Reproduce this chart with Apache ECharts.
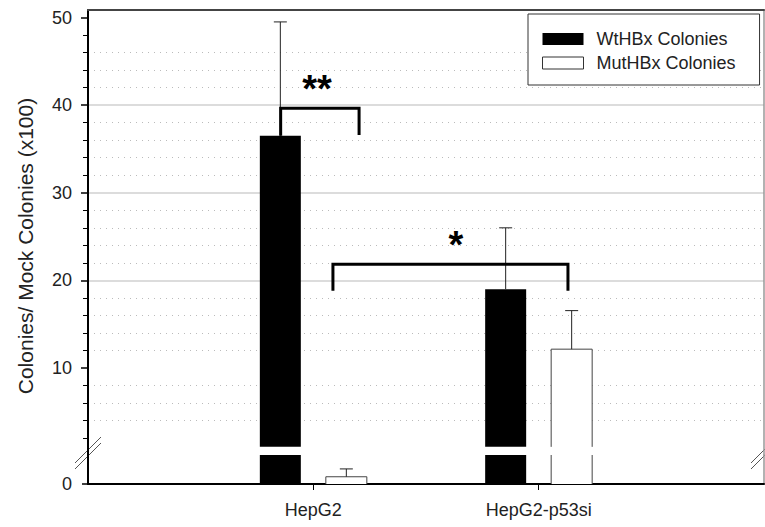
<!DOCTYPE html>
<html>
<head>
<meta charset="utf-8">
<script src="https://cdn.jsdelivr.net/npm/echarts@6/dist/echarts.min.js"></script>
<style>
html, body { margin: 0; padding: 0; background: #fff; }
#chart { width: 765px; height: 527px; }
</style>
</head>
<body>
<div id="chart"></div>
<script>
// ---------------- data ----------------
const categories = ['HepG2', 'HepG2-p53si'];
const seriesNames = ['WtHBx Colonies', 'MutHBx Colonies'];
const wtValues = [36.5, 19.0];
const wtErrors = [13.0, 7.0];
const mutValues = [0.25, 12.15];
const mutErrors = [0.27, 4.4];
const majorTickValues = [10, 20, 30, 40, 50];
const minorTickValues = [2, 4, 6, 8, 12, 14, 16, 18, 22, 24, 26, 28, 32, 34, 36, 38, 42, 44, 46, 48];
const lowerTickValues = [0];
const yAxisTitle = 'Colonies/ Mock Colonies (x100)';
// significance brackets (x in category-index units, y in data units)
const bracketLabels = ['**', '*'];
const bracketLeftX = [0.855, 1.087];
const bracketRightX = [1.203, 2.130];
const bracketTopY = [39.64, 21.85];
const bracketLeftEndY = [36.5, 18.82];
const bracketRightEndY = [36.6, 18.82];
const bracketLabelX = [1.016, 1.633];
const bracketLabelY = [41.8, 24.0];

// ---------------- layout / style constants ----------------
const FONT = "'Liberation Sans', Arial, Helvetica, sans-serif";
const UPPER_MIN = 0.07, UPPER_MAX = 50.86, BREAK_AT = 1, LOWER_MAX = 1;
const BAR_W = 41, BAR_OFF = 33, CAP_W = 13;

const wtData = categories.map((c, i) => [i + 1, wtValues[i], wtErrors[i]]);
const mutData = categories.map((c, i) => [i + 1, mutValues[i], mutErrors[i]]);
const bracketData = bracketLabels.map((l, i) => [bracketLeftX[i], bracketRightX[i], bracketTopY[i], bracketLeftEndY[i], bracketRightEndY[i], bracketLabelX[i], bracketLabelY[i]]);

function barItem(offsetPx, fill, stroke, base) {
  return function (params, api) {
    const cs = params.coordSys;
    const xi = api.value(0), v = api.value(1), e = api.value(2);
    const pBase = api.coord([xi, base]);
    const pTop = api.coord([xi, v]);
    const pErr = api.coord([xi, v + e]);
    const cx = pBase[0] + offsetPx;
    const visTop = cs.y;
    const visBot = Math.min(cs.y + cs.height, pBase[1]);
    const children = [];
    const y0 = Math.max(visTop, Math.min(visBot, pTop[1]));
    const l = cx - BAR_W / 2, r = cx + BAR_W / 2;
    if (visBot - y0 > 0.01) {
      children.push({ type: 'rect', shape: { x: l, y: y0, width: BAR_W, height: visBot - y0 }, style: { fill: fill } });
      if (stroke) {
        if (pTop[1] >= visTop && pTop[1] <= visBot) {
          children.push({ type: 'polyline', shape: { points: [[l, visBot], [l, y0], [r, y0], [r, visBot]] }, style: { fill: null, stroke: stroke, lineWidth: 1 } });
        } else {
          children.push({ type: 'line', shape: { x1: l, y1: visBot, x2: l, y2: y0 }, style: { stroke: stroke, lineWidth: 1 } });
          children.push({ type: 'line', shape: { x1: r, y1: visBot, x2: r, y2: y0 }, style: { stroke: stroke, lineWidth: 1 } });
        }
      }
    }
    const e1 = Math.max(visTop, Math.min(visBot, pErr[1]));
    const eStart = Math.max(visTop, Math.min(visBot, pTop[1]));
    if (eStart - e1 > 0.01) {
      children.push({ type: 'line', shape: { x1: cx, y1: eStart, x2: cx, y2: e1 }, style: { stroke: '#222', lineWidth: 1 } });
    }
    if (pErr[1] >= visTop && pErr[1] <= visBot) {
      children.push({ type: 'line', shape: { x1: cx - CAP_W / 2, y1: pErr[1], x2: cx + CAP_W / 2, y2: pErr[1] }, style: { stroke: '#222', lineWidth: 1 } });
    }
    return { type: 'group', children: children };
  };
}

function bracketItem(params, api) {
  const x1 = api.value(0), x2 = api.value(1), top = api.value(2), e1 = api.value(3), e2 = api.value(4);
  const lx = api.value(5), ly = api.value(6);
  const p1 = api.coord([x1, e1]), p2 = api.coord([x1, top]), p3 = api.coord([x2, top]), p4 = api.coord([x2, e2]);
  const pl = api.coord([lx, ly]);
  return {
    type: 'group',
    children: [
      { type: 'polyline', shape: { points: [p1, p2, p3, p4] }, style: { fill: null, stroke: '#000', lineWidth: 3, lineJoin: 'miter' } },
      { type: 'text', x: pl[0], y: pl[1], style: { text: bracketLabels[params.dataIndex], font: 'bold 38px ' + FONT, fill: '#000', textAlign: 'center', textVerticalAlign: 'middle' } }
    ]
  };
}

const axisLabelStyle = { fontSize: 18, color: '#222', fontFamily: FONT };

const option = {
  animation: false,
  backgroundColor: '#fff',
  grid: [
    { left: 88, right: 1, top: 10, height: 445, containLabel: false, outerBoundsMode: 'none' },
    { left: 88, right: 1, top: 455, height: 29, containLabel: false, outerBoundsMode: 'none' }
  ],
  xAxis: [
    { gridIndex: 0, type: 'value', min: 0, max: 3, position: 'top',
      axisLine: { show: true, onZero: false, lineStyle: { color: '#444', width: 2 } },
      axisTick: { show: false }, axisLabel: { show: false }, splitLine: { show: false } },
    { gridIndex: 1, type: 'value', min: 0, max: 3, position: 'bottom',
      axisLine: { show: true, onZero: false, lineStyle: { color: '#000', width: 2 } },
      axisTick: { show: true, customValues: [1, 2], length: 6, lineStyle: { color: '#000', width: 1 } },
      axisLabel: Object.assign({ customValues: [1, 2], margin: 17, formatter: v => categories[Math.round(v) - 1] }, axisLabelStyle),
      splitLine: { show: false } }
  ],
  yAxis: [
    { gridIndex: 0, type: 'value', min: UPPER_MIN, max: UPPER_MAX, position: 'left',
      axisLine: { show: true, onZero: false, lineStyle: { color: '#000', width: 2 } },
      axisTick: { show: true, customValues: majorTickValues, length: 7, lineStyle: { color: '#000', width: 1.5 } },
      axisLabel: Object.assign({ customValues: majorTickValues, margin: 16 }, axisLabelStyle),
      splitLine: { show: true, showMinLine: false, showMaxLine: false, lineStyle: { color: '#d0d0d0', width: 1.5 } } },
    { gridIndex: 0, type: 'value', min: UPPER_MIN, max: UPPER_MAX, position: 'left',
      axisLine: { show: false, onZero: false },
      axisTick: { show: true, customValues: minorTickValues, length: 5, lineStyle: { color: '#000', width: 1 } },
      axisLabel: { show: false },
      splitLine: { show: true, showMinLine: false, showMaxLine: false, lineStyle: { color: '#bbb', width: 1, type: [1, 5] } } },
    { gridIndex: 0, type: 'value', min: UPPER_MIN, max: UPPER_MAX, position: 'right',
      axisLine: { show: true, onZero: false, lineStyle: { color: '#999', width: 1.5 } },
      axisTick: { show: false }, axisLabel: { show: false }, splitLine: { show: false } },
    { gridIndex: 1, type: 'value', min: 0, max: LOWER_MAX, position: 'left',
      axisLine: { show: true, onZero: false, lineStyle: { color: '#000', width: 2 } },
      axisTick: { show: true, customValues: lowerTickValues, length: 6, lineStyle: { color: '#000', width: 1.5 } },
      axisLabel: Object.assign({ customValues: lowerTickValues, margin: 16 }, axisLabelStyle),
      splitLine: { show: false } },
    { gridIndex: 1, type: 'value', min: 0, max: LOWER_MAX, position: 'right',
      axisLine: { show: true, onZero: false, lineStyle: { color: '#999', width: 1.5 } },
      axisTick: { show: false }, axisLabel: { show: false }, splitLine: { show: false } }
  ],
  legend: {
    data: [
      { name: seriesNames[0], icon: 'rect', itemStyle: { color: '#000' } },
      { name: seriesNames[1], icon: 'rect', itemStyle: { color: '#fff', borderColor: '#333', borderWidth: 1 } }
    ],
    left: 528, top: 14, orient: 'vertical',
    itemWidth: 41, itemHeight: 12, itemGap: 6,
    padding: [16, 24, 13, 14],
    borderColor: '#333', borderWidth: 1, backgroundColor: '#fff',
    selectedMode: false,
    textStyle: { fontSize: 18, color: '#222', fontFamily: FONT, padding: [0, 0, 0, 8] }
  },
  series: [
    { type: 'custom', name: seriesNames[0], xAxisIndex: 0, yAxisIndex: 0, data: wtData, renderItem: barItem(-BAR_OFF, '#000', null, BREAK_AT), itemStyle: { color: '#000' }, z: 3 },
    { type: 'custom', name: seriesNames[1], xAxisIndex: 0, yAxisIndex: 0, data: mutData, renderItem: barItem(BAR_OFF, '#fff', '#444', BREAK_AT), itemStyle: { color: '#fff', borderColor: '#444', borderWidth: 1 }, z: 3 },
    { type: 'custom', name: seriesNames[0], xAxisIndex: 1, yAxisIndex: 3, data: wtData, renderItem: barItem(-BAR_OFF, '#000', null, 0), itemStyle: { color: '#000' }, z: 3 },
    { type: 'custom', name: seriesNames[1], xAxisIndex: 1, yAxisIndex: 3, data: mutData, renderItem: barItem(BAR_OFF, '#fff', '#444', 0), itemStyle: { color: '#fff', borderColor: '#444', borderWidth: 1 }, z: 3 },
    { type: 'custom', name: 'brackets', xAxisIndex: 0, yAxisIndex: 0, data: bracketData, renderItem: bracketItem, silent: true, z: 5 }
  ],
  graphic: [
    { type: 'text', x: 25, y: 246, rotation: Math.PI / 2,
      style: { text: yAxisTitle, font: '21px ' + FONT, fill: '#222', textAlign: 'center', textVerticalAlign: 'middle' } },
    { type: 'line', shape: { x1: 75, y1: 463, x2: 101, y2: 437 }, style: { stroke: '#555', lineWidth: 1 } },
    { type: 'line', shape: { x1: 75, y1: 469, x2: 101, y2: 443 }, style: { stroke: '#555', lineWidth: 1 } },
    { type: 'line', shape: { x1: 751, y1: 463, x2: 777, y2: 437 }, style: { stroke: '#555', lineWidth: 1 } },
    { type: 'line', shape: { x1: 751, y1: 469, x2: 777, y2: 443 }, style: { stroke: '#555', lineWidth: 1 } }
  ]
};

const chart = echarts.init(document.getElementById('chart'), null, { renderer: 'svg' });
chart.setOption(option);
</script>
</body>
</html>
